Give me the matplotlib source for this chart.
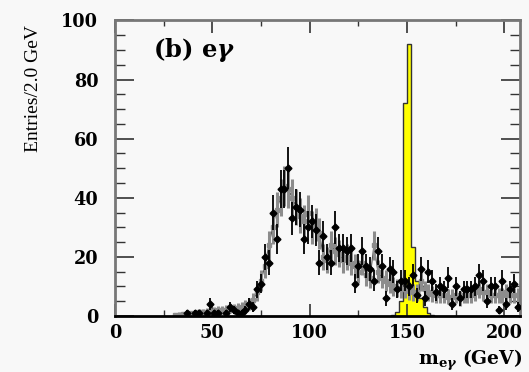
import numpy as np
import matplotlib
matplotlib.use('Agg')
import matplotlib.pyplot as plt
from matplotlib.ticker import MultipleLocator

# bin centres (2 GeV bins) for data and MC
centres = np.arange(31, 209, 2)

# data (black points)
data = [0, 0, 0, 1, 0, 1, 1, 0, 1, 4, 1, 1, 0, 1, 3, 2, 1, 1, 2, 4,
        3, 9, 11, 20, 18, 35, 26, 43, 43, 50, 33, 37, 36, 26, 30, 32, 29, 18, 27, 20,
        18, 30, 23, 23, 22, 23, 11, 17, 22, 17, 16, 12, 22, 17, 6, 16, 15, 9, 12, 12,
        10, 14, 7, 16, 6, 15, 12, 8, 10, 9, 13, 4, 10, 6, 9, 9, 9, 10, 14, 12,
        5, 10, 10, 2, 12, 4, 9, 11, 3]

# background MC (grey points)
mc = [0.3, 0.5, 0.6, 0.8, 0.9, 1.0, 1.2, 1.3, 1.5, 1.6, 1.8, 2.0, 2.0, 2.2, 2.4, 2.6, 2.8, 3.0, 3.5, 4.0,
      5.5, 8, 12, 17, 24, 30, 36, 40, 44, 43, 40, 37, 34, 32, 35, 30, 31, 28, 20, 19,
      24, 22, 21, 19, 20, 18, 17, 15, 18, 14, 13, 24, 15, 13, 12, 11, 10, 9.5, 9, 9,
      8.5, 8, 8, 12, 9, 8, 7.5, 7, 7, 7, 6.5, 6.5, 7, 6, 7, 7, 7, 8, 9, 8,
      8, 7, 7, 7, 7, 8, 7, 7, 7]

# excited electron signal (yellow histogram), bin left edges
sig_edges = [142, 144, 146, 148, 150, 152, 154, 156, 158, 160, 162]
sig_vals = [0.5, 1.5, 5, 72, 92, 23.5, 12, 6, 3, 1, 0.3]

plt.rcParams['font.family'] = ['DejaVu Serif']
plt.rcParams['mathtext.fontset'] = 'dejavuserif'

fig = plt.figure(figsize=(5.29, 3.72), dpi=100, facecolor='#f8f8f8')
ax = fig.add_axes([0.2174, 0.1505, 0.7656, 0.7945])
ax.set_facecolor('#f8f8f8')

data = np.array(data, dtype=float)
mc = np.array(mc, dtype=float)

# signal
edges = np.append(sig_edges, sig_edges[-1] + 2)
ax.stairs(sig_vals, edges, fill=True, color='#ffff00', zorder=1)
ax.stairs(sig_vals, edges, color='#333333', lw=1.0, zorder=1.5)

# MC: thin line + grey error bars
ax.plot(centres, mc, color='#555555', lw=0.8, zorder=2)
ax.errorbar(centres, mc, yerr=np.sqrt(mc), fmt='s', ms=2.5, color='#8c8c8c',
            ecolor='#8c8c8c', elinewidth=2.2, capsize=0, zorder=2)

# data
m = data > 0
ax.errorbar(centres[m], data[m], yerr=np.sqrt(data[m]), xerr=1.0, fmt='D', ms=3.5,
            color='black', ecolor='black', elinewidth=1.3, capsize=0, zorder=3)

ax.set_xlim(0, 208)
ax.set_ylim(0, 100)
ax.xaxis.set_major_locator(MultipleLocator(50))
ax.xaxis.set_minor_locator(MultipleLocator(25))
ax.yaxis.set_major_locator(MultipleLocator(20))
ax.yaxis.set_minor_locator(MultipleLocator(5))
ax.tick_params(which='both', direction='in', top=True, right=True, color='#333333')
ax.tick_params(axis='y', which='major', length=14, width=1.2, pad=12)
ax.tick_params(axis='y', which='minor', length=7, width=1.0)
ax.tick_params(axis='x', which='major', length=9, width=1.2, pad=6)
ax.tick_params(axis='x', which='minor', length=4, width=1.0)
for lab in ax.get_xticklabels() + ax.get_yticklabels():
    lab.set_fontsize(12.7)
    lab.set_fontweight('bold')

for s in ['left', 'top', 'right']:
    ax.spines[s].set_color('#777777')
    ax.spines[s].set_linewidth(2)
ax.spines['bottom'].set_color('black')
ax.spines['bottom'].set_linewidth(2)

ax.text(0.095, 0.9, r'(b) e$\boldsymbol{\gamma}$', transform=ax.transAxes,
        fontsize=17.5, fontweight='bold', va='center', ha='left')

fig.text(33 / 529, 1 - 88 / 372, 'Entries/2.0 GeV', rotation=90, ha='center', va='center',
         fontsize=14, family='Liberation Serif')
fig.text(522 / 529, 1 - 360 / 372, r'$\mathbf{m}_{\mathbf{e}\boldsymbol{\gamma}}$ (GeV)',
         ha='right', va='center', fontsize=13.5, fontweight='bold')

fig.savefig('out.png', dpi=100, facecolor=fig.get_facecolor())
